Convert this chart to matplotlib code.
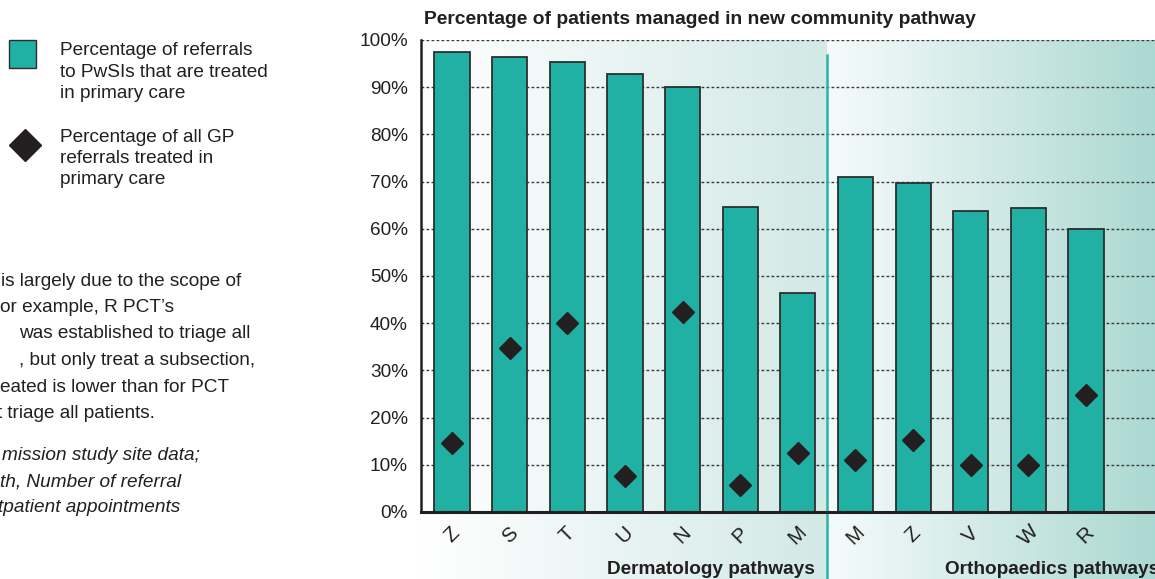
import numpy as np
import matplotlib
matplotlib.use('Agg')
import matplotlib.pyplot as plt
from matplotlib.colors import LinearSegmentedColormap
from matplotlib.patches import Rectangle
from matplotlib.lines import Line2D
from matplotlib.transforms import Affine2D

# ---------------- data ----------------
categories = ['Z', 'S', 'T', 'U', 'N', 'P', 'M', 'M', 'Z', 'V', 'W', 'R']
pwsi_pct = [97.5, 96.3, 95.4, 92.9, 90.0, 64.7, 46.5, 71.0, 69.8, 63.8, 64.5, 60.0]
gp_pct = [14.6, 34.8, 40.0, 7.7, 42.4, 5.8, 12.6, 11.0, 15.2, 10.0, 10.0, 24.8]
groups = ['Dermatology pathways', 'Orthopaedics pathways']
group_sizes = [7, 5]
yticks = [0, 10, 20, 30, 40, 50, 60, 70, 80, 90, 100]
ytick_labels = [f'{v}%' for v in yticks]
title = 'Percentage of patients managed in new community pathway'
legend_labels = ['Percentage of referrals\nto PwSIs that are treated\nin primary care',
                 'Percentage of all GP\nreferrals treated in\nprimary care']
body_lines = ['is largely due to the scope of',
              'or example, R PCT\u2019s',
              'was established to triage all',
              ', but only treat a subsection,',
              'eated is lower than for PCT',
              't triage all patients.']
source_lines = ['mission study site data;',
                'th, Number of referral',
                'tpatient appointments']

# ---------------- style ----------------
plt.rcParams['font.family'] = ['Liberation Sans', 'DejaVu Sans']
TXT = '#231f20'
BAR = '#21b0a4'
FS = 13.7

W, H = 1155, 579
fig = plt.figure(figsize=(W / 100, H / 100), dpi=100)
pix = Affine2D().scale(1.0 / W, -1.0 / H).translate(0, 1) + fig.transFigure

ax_l, ax_b, ax_t = 421, 512, 40
ax = fig.add_axes([ax_l / W, 1 - ax_b / H, 1 - ax_l / W, (ax_b - ax_t) / H])
ax.set_facecolor('none')

x = np.arange(len(categories))
step = 57.64
xmin = (ax_l - 452) / step
xmax = (W - 452) / step
div = group_sizes[0] - 0.5
ybot = -(H - ax_b) / (ax_b - ax_t) - 0.01

# gradient backgrounds
grad = np.linspace(0, 1, 256).reshape(1, -1)
cm1 = LinearSegmentedColormap.from_list('g1', ['#ffffff', '#d2e9e6'])
cm2 = LinearSegmentedColormap.from_list('g2', ['#f6fbfb', '#abd8d2'])
ax.imshow(grad, cmap=cm1, extent=[xmin, div, ybot, 1.0], aspect='auto',
          transform=ax.get_xaxis_transform(), zorder=0, clip_on=False,
          interpolation='bilinear')
ax.imshow(grad, cmap=cm2, extent=[div, xmax + 0.05, ybot, 1.0], aspect='auto',
          transform=ax.get_xaxis_transform(), zorder=0, clip_on=False,
          interpolation='bilinear')

# bars & diamonds
ax.bar(x, pwsi_pct, width=0.61, color=BAR, edgecolor='#2e2e2e', linewidth=1.3, zorder=2)
ax.plot(x, gp_pct, linestyle='none', marker='D', ms=11.5, color=TXT, zorder=3)

# divider
ax.plot([div, div], [ybot, 0.968], transform=ax.get_xaxis_transform(),
        color='#2ab3a8', lw=1.8, clip_on=False, zorder=2.2)

ax.set_xlim(xmin, xmax)
ax.set_ylim(0, 100)
ax.set_yticks(yticks)
ax.set_yticklabels(ytick_labels, fontsize=FS, color=TXT)
ax.set_xticks(x)
ax.set_xticklabels(categories, rotation=45, ha='center', va='center',
                   rotation_mode='anchor', fontsize=14.8, color=TXT)
ax.tick_params(axis='x', length=0, pad=16.5)
ax.tick_params(axis='y', length=0, pad=9.4)
ax.yaxis.grid(True, linestyle=(0, (2, 1.6)), color='#3a3a3a', lw=1.0)
ax.set_axisbelow(True)
for s in ['top', 'right']:
    ax.spines[s].set_visible(False)
ax.spines['left'].set_bounds(0, 100)
ax.spines['left'].set_linewidth(1.8)
ax.spines['left'].set_color(TXT)
ax.spines['bottom'].set_linewidth(2.2)
ax.spines['bottom'].set_color(TXT)

# group labels
ax.text(815, 569, groups[0], transform=pix, ha='right', va='center',
        fontsize=FS, fontweight='bold', color=TXT, clip_on=False, zorder=5)
ax.text(945, 569, groups[1], transform=pix, ha='left', va='center',
        fontsize=FS, fontweight='bold', color=TXT, clip_on=False, zorder=5)

# title
fig.text(424, 19, title, transform=pix, ha='left', va='center',
         fontsize=13.9, fontweight='bold', color=TXT)

# legend
fig.add_artist(Rectangle((9, 40), 27, 28, transform=pix, facecolor=BAR,
                         edgecolor='#2e2e2e', linewidth=1.0))
fig.add_artist(Line2D([25], [145], transform=pix, marker='D', ms=16.8,
                      color=TXT, linestyle='none'))
leg_y = [[50.7, 72.2, 93.7], [137, 158.5, 180]]
for lab, ys in zip(legend_labels, leg_y):
    for line, yy in zip(lab.split('\n'), ys):
        fig.text(60, yy, line, transform=pix, ha='left', va='center',
                 fontsize=FS, color=TXT)

# body text fragments
body_x = [1, 0, 19, 19, 0, -3]
body_y = [281, 307.5, 334, 360.5, 387, 413.5]
for t, xx, yy in zip(body_lines, body_x, body_y):
    fig.text(xx, yy, t, transform=pix, ha='left', va='center', fontsize=FS, color=TXT)
src_x = [2, 0, -2]
src_y = [455, 482, 508]
for t, xx, yy in zip(source_lines, src_x, src_y):
    fig.text(xx, yy, t, transform=pix, ha='left', va='center', fontsize=FS,
             color=TXT, style='italic')

fig.savefig('out.png', dpi=100)
